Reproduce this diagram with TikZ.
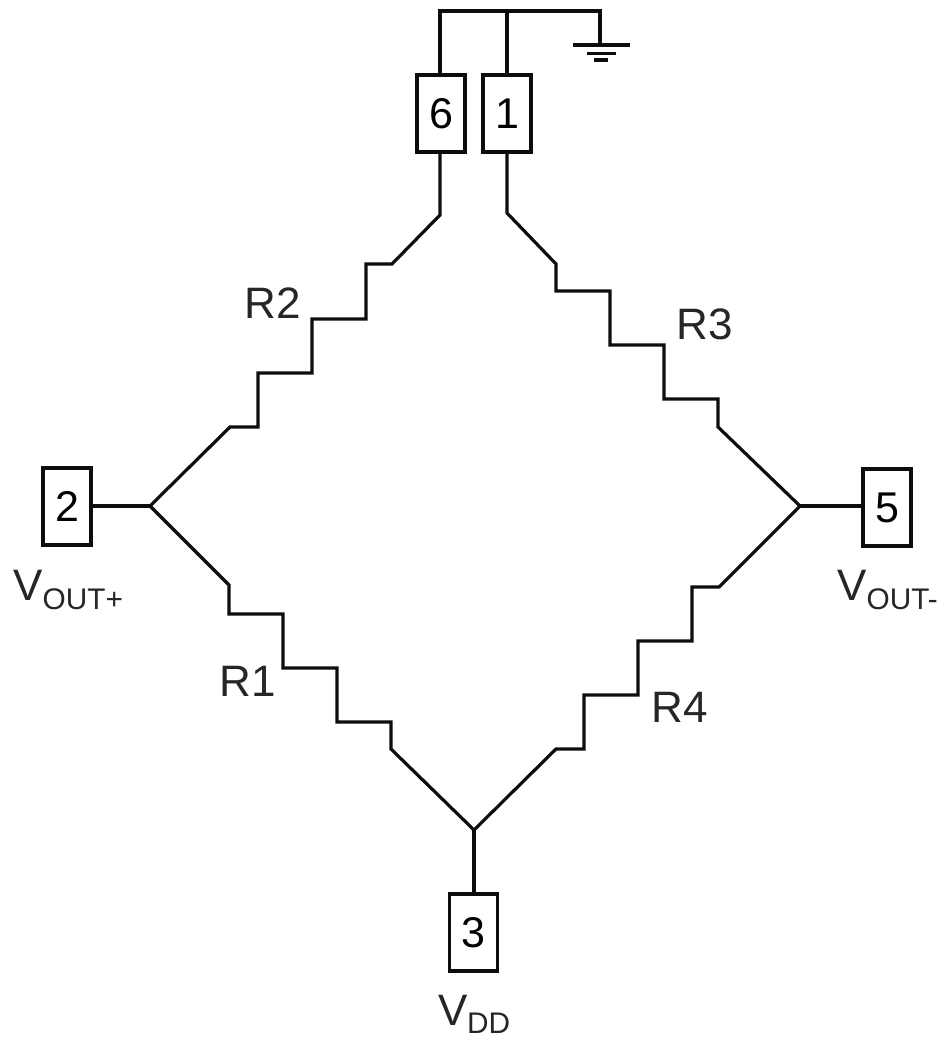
\documentclass[tikz,border=0pt]{standalone}
\usepackage{fontspec}
\setmainfont{Liberation Sans}
\begin{document}
\begin{tikzpicture}[x=1pt,y=-1pt,
  wire/.style={line width=3.2pt,line join=miter,black!95},
  pinbox/.style={draw=black!95,line width=3.2pt,minimum width=48pt,minimum height=77pt,inner sep=0pt,font=\fontsize{43}{43}\selectfont,fill=white},
  lab/.style={inner sep=0pt,text=black!85,font=\fontsize{44}{44}\selectfont},
  vlab/.style={inner sep=0pt,anchor=base west,text=black!85,font=\fontsize{44}{44}\selectfont},
  sub/.style={inner sep=0pt,anchor=base west,text=black!85,font=\fontsize{29.8}{30}\selectfont}]
\useasboundingbox (0,0) rectangle (941,1038);
% pins
\node[pinbox] (p6) at (441,113.5) {6};
\node[pinbox] (p1) at (507,113.5) {1};
\node[pinbox] (p2) at (67,506.5) {2};
\node[pinbox] (p5) at (887,507.5) {5};
\node[pinbox] (p3) at (473.5,932.5) {3};
% junctions
\coordinate (jl) at (150,506);
\coordinate (jr) at (800,506);
\coordinate (jb) at (474,830);
\coordinate (t6) at (440,11);
\coordinate (t1) at (507,11);
\coordinate (tg) at (600,11);
\coordinate (g) at (600,45);
% ground
\draw[wire] (p6.north -| t6) -- (t6) -- (tg) -- (g);
\draw[wire] (t1) -- (p1.north);
\draw[wire] (573,45) -- (630,45);
\draw[wire] (587,53.5) -- (616,53.5);
\draw[wire] (594,60) -- (608,60);
% stubs
\draw[wire] (p2.east |- jl) -- (jl);
\draw[wire] (jr) -- (p5.west |- jr);
\draw[wire] (jb) -- (p3.north -| jb);
% R2
\draw[wire] (p6.south -| t6) -- (440,215) -- (392,264) -- (366,264) -- (366,319) -- (312,319) -- (312,373) -- (258,373) -- (258,427) -- (230,427) -- (jl);
% R3
\draw[wire] (p1.south) -- (507,213) -- (556,264) -- (556,291) -- (610,291) -- (610,345) -- (664,345) -- (664,399) -- (718,399) -- (718,427) -- (jr);
% R1
\draw[wire] (jl) -- (229,585) -- (229,614) -- (283,614) -- (283,668) -- (337,668) -- (337,722) -- (391,722) -- (391,749) -- (jb);
% R4
\draw[wire] (jb) -- (556,749) -- (584,749) -- (584,695) -- (638,695) -- (638,641) -- (692,641) -- (692,587) -- (719,587) -- (jr);
% labels
\node[lab] (r2) at (272.5,303) {R2};
\node[lab] (r3) at (704.5,324) {R3};
\node[lab] (r1) at (248,681) {R1};
\node[lab] (r4) at (680,707) {R4};
\node[vlab] (v1) at (13,600) {V};
\node[sub] (v1s) at (42.5,609) {OUT+};
\node[vlab] (v2) at (837,600) {V};
\node[sub] (v2s) at (866.5,609) {OUT-};
\node[vlab] (v3) at (438,1025) {V};
\node[sub] (v3s) at (467,1033) {DD};
\end{tikzpicture}
\end{document}
